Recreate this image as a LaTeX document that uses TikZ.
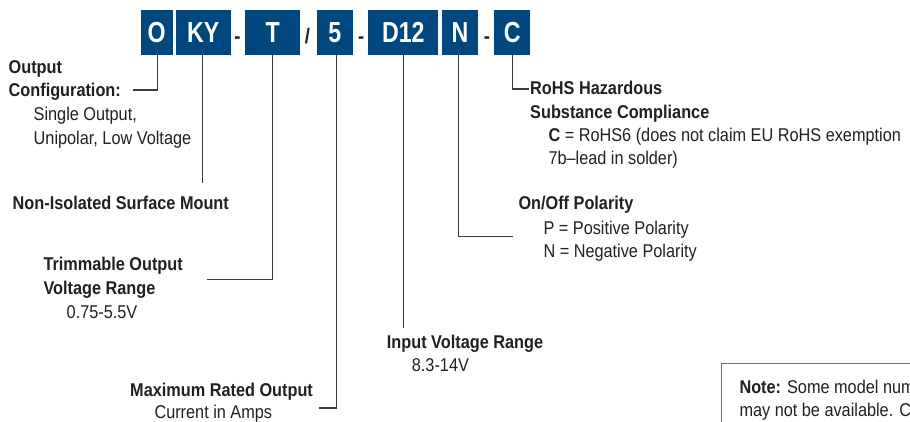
\documentclass[tikz,border=0pt]{standalone}
\usepackage{fontspec}
\setmainfont{Liberation Sans}[FakeStretch=0.88]
\newfontfamily\boxfont{Liberation Sans Bold}[FakeStretch=0.8]
\definecolor{boxblue}{RGB}{0,70,127}
\definecolor{txt}{RGB}{35,31,32}
\definecolor{ln}{RGB}{60,60,60}
\definecolor{noteline}{RGB}{90,110,140}
\begin{document}
\begin{tikzpicture}[x=1pt,y=-1pt,
  code/.style={fill=boxblue,text=white,inner sep=0pt,minimum height=45pt,
    font=\boxfont\fontsize{29}{29}\selectfont},
  sep/.style={anchor=base,text=txt,inner sep=0pt,font=\bfseries\fontsize{21}{21}\selectfont},
  hd/.style={anchor=base west,text=txt,inner sep=0pt,font=\bfseries\fontsize{18.5}{22}\selectfont},
  tx/.style={anchor=base west,text=txt,inner sep=0pt,font=\fontsize{18.5}{22}\selectfont},
  conn/.style={draw=ln,line width=1.2pt}]
\useasboundingbox (0,0) rectangle (910,422);
\clip (0,0) rectangle (910,422);
% code boxes
\node[code,minimum width=32pt] (bO) at (156.7,32.5) {O};
\node[code,minimum width=54.7pt] (bKY) at (203.3,32.5) {KY};
\node[code,minimum width=54.7pt] (bT) at (272.7,32.5) {T};
\node[code,minimum width=36pt] (b5) at (334.7,32.5) {5};
\node[code,minimum width=70pt] (bD) at (403.3,32.5) {D12};
\node[code,minimum width=36.6pt] (bN) at (460,32.5) {N};
\node[code,minimum width=35.7pt] (bC) at (512.2,32.5) {C};
% separators
\node[sep] (s1) at (237.5,43.5) {-};
\node[sep] (s2) at (307.5,43.5) {/};
\node[sep] (s3) at (361.3,43.5) {-};
\node[sep] (s4) at (487,43.5) {-};
% labels
\node[hd] (lOut1) at (8.5,73.5) {Output};
\node[hd] (lOut2) at (8.5,97) {Configuration:};
\node[tx] (lOut3) at (33.5,121) {Single Output,};
\node[tx] (lOut4) at (33.5,145) {Unipolar, Low Voltage};
\node[hd] (lNI) at (12.5,210) {Non-Isolated Surface Mount};
\node[hd] (lT1) at (43.3,270.5) {Trimmable Output};
\node[hd] (lT2) at (43.3,294) {Voltage Range};
\node[tx] (lT3) at (66.5,318.3) {0.75-5.5V};
\node[hd] (l51) at (130,396.5) {Maximum Rated Output};
\node[tx] (l52) at (154.3,418.5) {Current in Amps};
\node[hd] (lD1) at (386.7,348.3) {Input Voltage Range};
\node[tx] (lD2) at (411.7,371.7) {8.3-14V};
\node[hd] (lN1) at (518.3,209.3) {On/Off Polarity};
\node[tx] (lN2) at (543.3,234.3) {P = Positive Polarity};
\node[tx] (lN3) at (543.3,257.7) {N = Negative Polarity};
\node[hd] (lC1) at (530,94.3) {RoHS Hazardous};
\node[hd] (lC2) at (530,118.3) {Substance Compliance};
\node[tx] (lC3) at (548.3,141.7) {\textbf{C} = RoHS6 (does not claim EU RoHS exemption};
\node[tx] (lC4) at (548.3,165) {7b–lead in solder)};
% note box
\node[draw=noteline,line width=1pt,anchor=north west,minimum width=220pt,minimum height=80pt,inner sep=0pt] (note) at (720.7,363.3) {};
\node[tx] (n1) at (739.3,393.3) {\textbf{Note:} Some model num};
\node[tx] (n2) at (739.3,416) {may not be available. Co};
% connectors
\coordinate (cO) at (133.3,90);
\coordinate (cKY) at (202.5,183);
\coordinate (cT) at (206.7,279.3);
\coordinate (c5) at (319.3,408);
\coordinate (cD) at (403.3,328);
\coordinate (cN) at (513.3,236.7);
\coordinate (cC) at (529.3,89);
\draw[conn] ([xshift=0.6pt]bO.south) |- (cO);
\draw[conn] ([xshift=-0.8pt]bKY.south) -- (cKY);
\draw[conn] (bT.south) |- (cT);
\draw[conn] ([xshift=2pt]b5.south) |- (c5);
\draw[conn] (bD.south) -- (cD);
\draw[conn] ([xshift=-1.7pt]bN.south) |- (cN);
\draw[conn] (bC.south) |- (cC);
\end{tikzpicture}
\end{document}
